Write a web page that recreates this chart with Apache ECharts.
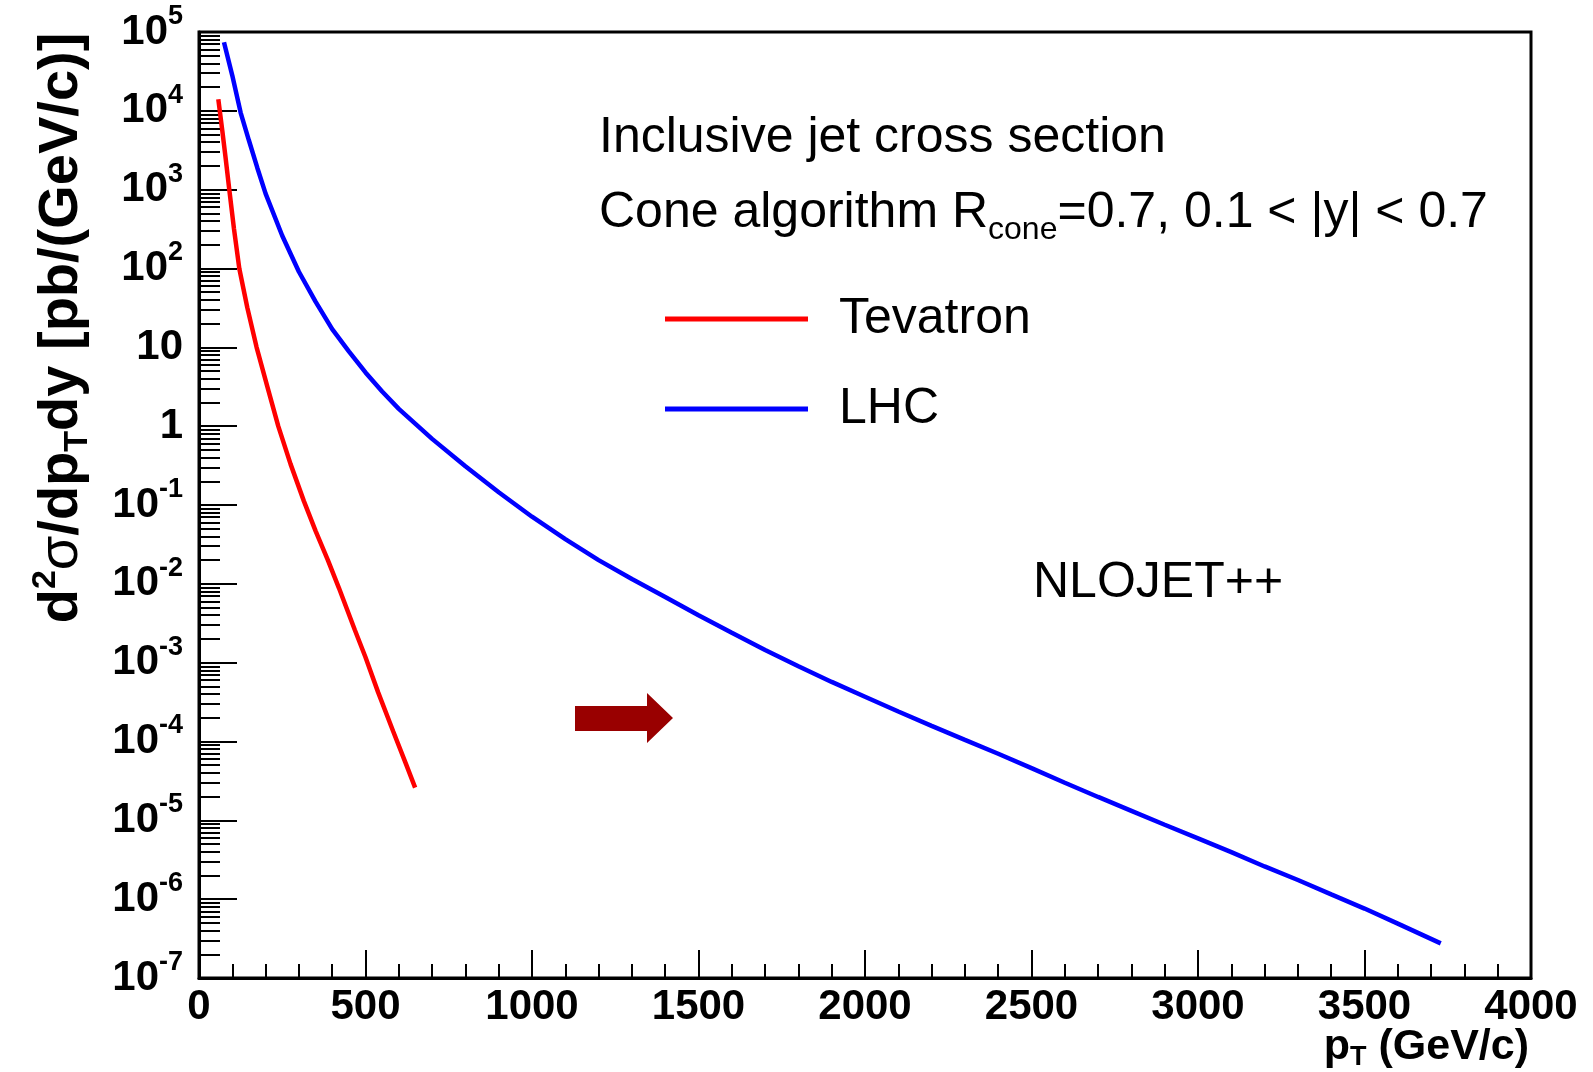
<!DOCTYPE html>
<html><head><meta charset="utf-8">
<script src="https://cdn.jsdelivr.net/npm/echarts@6/dist/echarts.min.js"></script>
<style>html,body{margin:0;padding:0;background:#fff}#c{width:1593px;height:1072px}</style>
</head><body><div id="c"></div>
<script>
// ---- data ----
const tevatronPt   = [58, 70, 80, 91, 105, 121, 145, 173, 205, 238, 275, 315, 350, 387, 420, 468, 500, 538, 583, 620, 649];
const tevatronXsec = [1.4e4, 5.6e3, 2.5e3, 1.0e3, 3.2e2, 1.0e2, 32, 10, 3.2, 1.0, 0.33, 0.112, 0.047, 0.020, 8.9e-3, 2.6e-3, 1.17e-3, 4.2e-4, 1.35e-4, 5.4e-5, 2.6e-5];

const lhcPt   = [75, 100, 125, 150, 175, 200, 250, 300, 350, 400, 450, 500, 550, 600, 650, 700, 800, 900, 1000, 1100, 1200, 1300, 1400, 1500, 1600, 1700, 1800, 1900, 2000, 2100, 2200, 2300, 2400, 2500, 2600, 2700, 2800, 2900, 3000, 3100, 3200, 3300, 3400, 3500, 3600, 3729];
const lhcXsec = [7.4e4, 2.8e4, 9.5e3, 4.2e3, 1.9e3, 8.9e2, 2.6e2, 91, 38, 17, 8.9, 4.8, 2.75, 1.66, 1.07, 0.69, 0.31, 0.145, 0.071, 0.037, 0.020, 0.0115, 0.0068, 0.0040, 0.0024, 1.45e-3, 9.0e-4, 5.7e-4, 3.7e-4, 2.4e-4, 1.58e-4, 1.05e-4, 7.0e-5, 4.6e-5, 3.0e-5, 1.98e-5, 1.32e-5, 8.8e-6, 5.9e-6, 3.95e-6, 2.6e-6, 1.75e-6, 1.15e-6, 7.6e-7, 4.9e-7, 2.75e-7];

const seriesNames = ['Tevatron', 'LHC'];
const seriesColors = ['#ff0000', '#0000ff'];
const xMin = 0, xMax = 4000, xStep = 500;
const yMinExp = -7, yMaxExp = 5;
const annotation1 = 'Inclusive jet cross section';
const annotation3 = 'NLOJET++';

// ---- build ----
const FONT = '"Liberation Sans", Arial, Helvetica, sans-serif';
const majorVals = [], minorVals = [];
for (let e = yMinExp; e <= yMaxExp; e++) majorVals.push(Math.pow(10, e));
for (let e = yMinExp; e < yMaxExp; e++) for (let k = 2; k <= 9; k++) minorVals.push(k * Math.pow(10, e));

const chart = echarts.init(document.getElementById('c'), null, {renderer: 'canvas'});
const option = {
  animation: false,
  backgroundColor: '#fff',
  grid: {left: 199, top: 32, right: 62, bottom: 94, show: true, borderColor: '#000', borderWidth: 3, containLabel: false},
  legend: {
    data: seriesNames, orient: 'vertical', left: 660, top: 289,
    icon: 'rect', itemWidth: 143, itemHeight: 5, itemGap: 40,
    textStyle: {fontSize: 50, fontFamily: FONT, color: '#000', lineHeight: 50, padding: [0, 0, 0, 26]}
  },
  xAxis: {
    type: 'value', min: xMin, max: xMax, interval: xStep,
    axisLine: {show: true, lineStyle: {color: '#000', width: 3}},
    axisTick: {show: true, inside: true, length: 28, lineStyle: {color: '#000', width: 2}},
    minorTick: {show: true, splitNumber: 5, length: 14, lineStyle: {color: '#000', width: 2}},
    splitLine: {show: false},
    axisLabel: {fontSize: 42, fontWeight: 'bold', fontFamily: FONT, color: '#000', margin: 8,
      showMinLabel: true, showMaxLabel: true, formatter: function (v) { return String(v); }}
  },
  yAxis: [{
    type: 'log', logBase: 10, min: Math.pow(10, yMinExp), max: Math.pow(10, yMaxExp), interval: 1,
    axisLine: {show: true, lineStyle: {color: '#000', width: 3}},
    axisTick: {show: true, inside: true, length: 38, customValues: majorVals, lineStyle: {color: '#000', width: 2}},
    splitLine: {show: false},
    axisLabel: {
      margin: 16, color: '#000', fontFamily: FONT, showMinLabel: true, showMaxLabel: true,
      customValues: majorVals,
      formatter: function (v) {
        const e = Math.round(Math.log10(v));
        if (e === 0) return '{b|1}';
        if (e === 1) return '{b|10}';
        return '{b|10}{s|' + e + '}';
      },
      rich: {
        b: {fontSize: 42, fontWeight: 'bold', fontFamily: FONT, color: '#000', lineHeight: 58},
        s: {fontSize: 27, fontWeight: 'bold', fontFamily: FONT, color: '#000', lineHeight: 27, verticalAlign: 'top'}
      }
    }
  }, {
    type: 'log', logBase: 10, min: Math.pow(10, yMinExp), max: Math.pow(10, yMaxExp), position: 'left', offset: 0,
    axisLine: {show: false}, axisLabel: {show: false}, splitLine: {show: false},
    axisTick: {show: true, inside: true, length: 21, customValues: minorVals, lineStyle: {color: '#000', width: 2}}
  }],
  series: [
    {name: seriesNames[0], type: 'line', showSymbol: false, yAxisIndex: 0, color: seriesColors[0],
     lineStyle: {width: 4.5, color: seriesColors[0]},
     data: tevatronPt.map((x, i) => [x, tevatronXsec[i]])},
    {name: seriesNames[1], type: 'line', showSymbol: false, yAxisIndex: 0, color: seriesColors[1],
     lineStyle: {width: 4.5, color: seriesColors[1]},
     data: lhcPt.map((x, i) => [x, lhcXsec[i]])}
  ],
  graphic: [
    {type: 'text', x: 599, y: 138, z: 100, style: {text: annotation1, fontSize: 50, fontFamily: FONT, fill: '#000', align: 'left', verticalAlign: 'middle'}},
    {type: 'text', x: 599, y: 213, z: 100, style: {
      text: '{a|Cone algorithm R}{sub|cone}{a|=0.7, 0.1 < |y| < 0.7}', align: 'left', verticalAlign: 'middle',
      rich: {
        a: {fontSize: 50, fontFamily: FONT, fill: '#000', lineHeight: 66},
        sub: {fontSize: 32, fontFamily: FONT, fill: '#000', lineHeight: 32, verticalAlign: 'bottom'}
      }}},
    {type: 'text', x: 1033, y: 583, z: 100, style: {text: annotation3, fontSize: 50, fontFamily: FONT, fill: '#000', align: 'left', verticalAlign: 'middle'}},
    {type: 'polygon', z: 100, shape: {points: [[575, 706], [647, 706], [647, 693], [673, 718], [647, 743], [647, 731], [575, 731]]}, style: {fill: '#990000'}},
    {type: 'text', x: 62, y: 328, rotation: Math.PI / 2, z: 100, style: {
      text: '{a|d}{sup|2}{g|σ}{a|/dp}{sub|T}{a|dy [pb/(GeV/c)]}', align: 'center', verticalAlign: 'middle',
      rich: {
        a: {fontSize: 56, fontWeight: 'bold', fontFamily: FONT, fill: '#000', lineHeight: 66},
        g: {fontSize: 56, fontWeight: 'normal', fontFamily: FONT, fill: '#000', lineHeight: 66},
        sup: {fontSize: 34, fontWeight: 'bold', fontFamily: FONT, fill: '#000', lineHeight: 34, verticalAlign: 'top'},
        sub: {fontSize: 34, fontWeight: 'bold', fontFamily: FONT, fill: '#000', lineHeight: 34, verticalAlign: 'bottom'}
      }}},
    {type: 'text', x: 1529, y: 1047, z: 100, style: {
      text: '{a|p}{sub|T}{a| (GeV/c)}', align: 'right', verticalAlign: 'middle',
      rich: {
        a: {fontSize: 43, fontWeight: 'bold', fontFamily: FONT, fill: '#000', lineHeight: 48},
        sub: {fontSize: 27, fontWeight: 'bold', fontFamily: FONT, fill: '#000', lineHeight: 27, verticalAlign: 'bottom'}
      }}}
  ]
};
chart.setOption(option);
</script>
</body></html>
